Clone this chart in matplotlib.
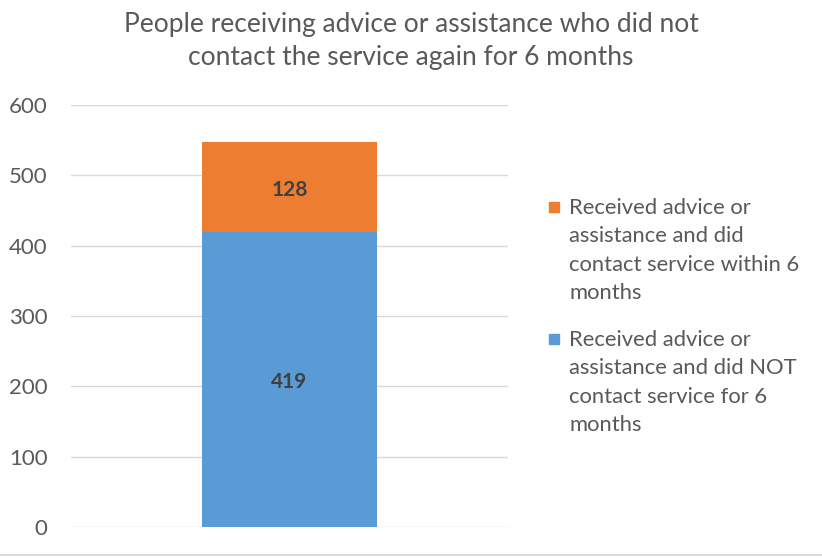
import matplotlib.pyplot as plt
from matplotlib.patches import Rectangle
from matplotlib.lines import Line2D

# Дані з діаграми
categories = [""]
not_contacted = [419]
contacted = [128]
label_not = "Received advice or\nassistance and did NOT\ncontact service for 6\nmonths"
label_contacted = "Received advice or\nassistance and did\ncontact service within 6\nmonths"
yticks = [0, 100, 200, 300, 400, 500, 600]

blue = "#5b9bd5"
orange = "#ed7d31"
grey = "#595959"

plt.rcParams['font.family'] = ['Lato', 'DejaVu Sans']

fig = plt.figure(figsize=(8.22, 5.58), dpi=100)
ax = fig.add_axes([0.0864, 0.0556, 0.5316, 0.7562])

x = range(len(categories))
ax.bar(x, not_contacted, width=0.4, color=blue, zorder=3)
ax.bar(x, contacted, bottom=not_contacted, width=0.4, color=orange, zorder=3)

# Підписи значень
for i in x:
    ax.text(i, not_contacted[i] / 2 - 4, str(not_contacted[i]), ha='center', va='center',
            fontsize=15, fontweight='bold', color='#404040', zorder=4)
    ax.text(i, not_contacted[i] + contacted[i] / 2 - 4, str(contacted[i]), ha='center', va='center',
            fontsize=15, fontweight='bold', color='#404040', zorder=4)

ax.set_xlim(-0.5, 0.5)
ax.set_ylim(0, 600)
ax.set_yticks(yticks)
ax.set_xticks([])
ax.yaxis.grid(True, color='#d9d9d9', linewidth=1)
ax.set_axisbelow(True)
for s in ax.spines.values():
    s.set_visible(False)
ax.tick_params(axis='y', length=0, pad=17, labelsize=16, labelcolor=grey)

fig.suptitle("People receiving advice or assistance who did not\ncontact the service again for 6 months",
             x=0.5, y=0.978, fontsize=19, color=grey, linespacing=1.4, va='top')

# Легенда вручну
W, H = 822, 558
entries = [(orange, label_contacted, 207), (blue, label_not, 339)]
for color, text, yc in entries:
    fig.add_artist(Rectangle((549 / W, 1 - (yc + 5) / H), 10 / W, 10 / H,
                             transform=fig.transFigure, color=color))
    fig.text(569 / W, 1 - (yc - 9) / H, text, fontsize=15.8, color=grey,
             va='top', ha='left', linespacing=1.52)

# Нижня рамка
fig.add_artist(Line2D([0, 1], [0.006, 0.006], color='#d9d9d9', linewidth=1.5))

fig.savefig("out.png", dpi=100)
